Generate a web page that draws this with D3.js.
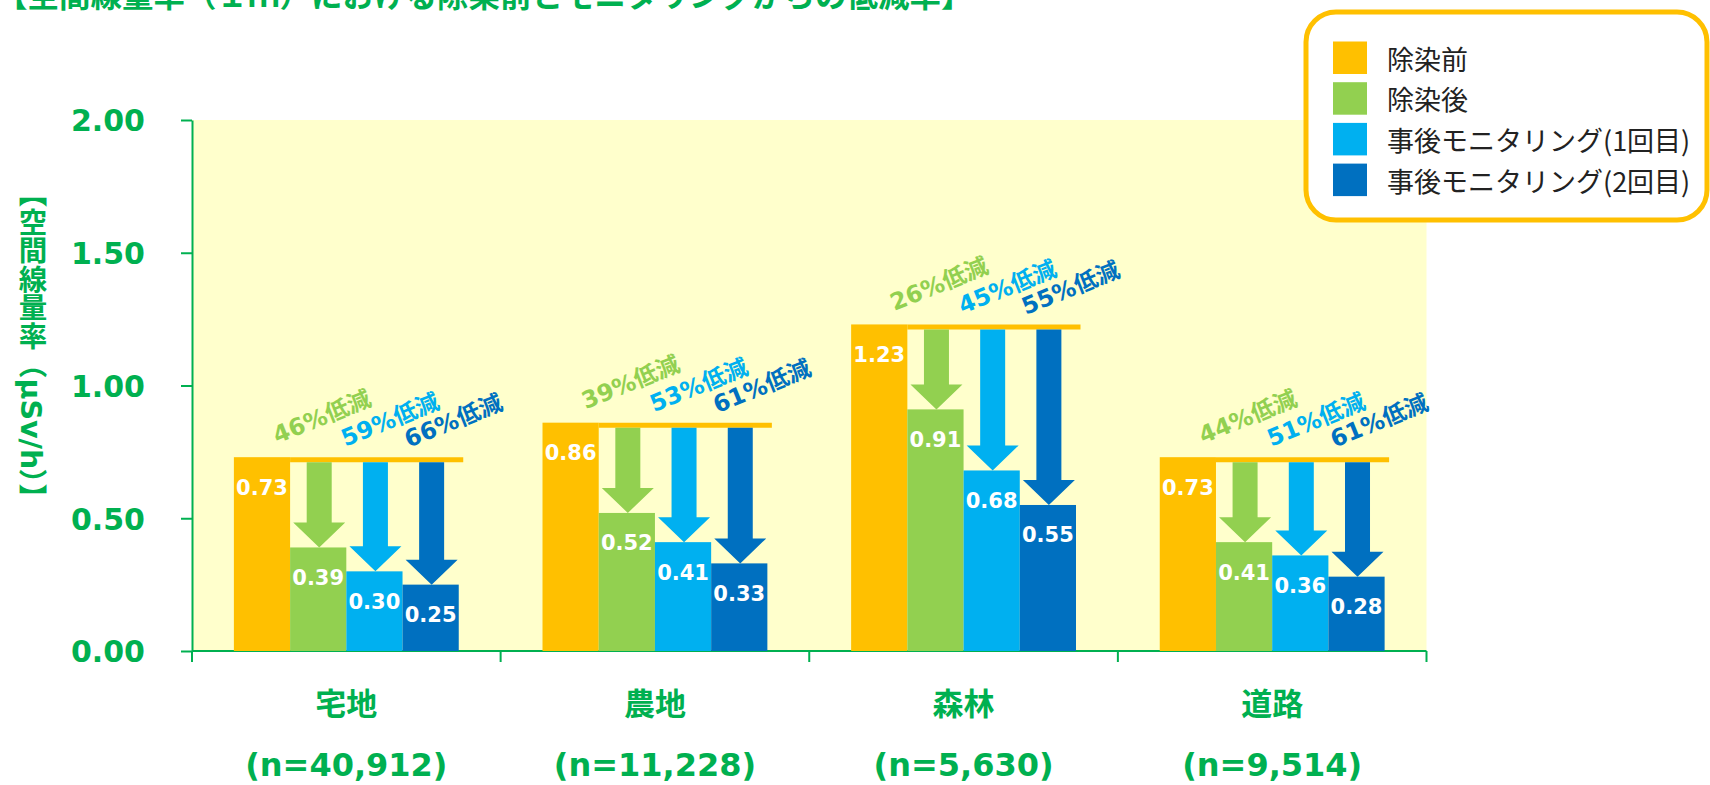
<!DOCTYPE html>
<html>
<head>
<meta charset="utf-8">
<script src="https://cdn.jsdelivr.net/npm/d3@7"></script>
<style>
  html, body { margin: 0; padding: 0; background: #ffffff; }
  svg { display: block; }
</style>
</head>
<body>
<svg id="chart" width="1710" height="785"></svg>
<script>
// ---- data ----
const categories = ["宅地", "農地", "森林", "道路"];
const sampleSizes = ["(n=40,912)", "(n=11,228)", "(n=5,630)", "(n=9,514)"];
const seriesNames = ["除染前", "除染後", "事後モニタリング(1回目)", "事後モニタリング(2回目)"];
const beforeValues = [0.73, 0.86, 1.23, 0.73];
const afterValues = [0.39, 0.52, 0.91, 0.41];
const monitoring1Values = [0.30, 0.41, 0.68, 0.36];
const monitoring2Values = [0.25, 0.33, 0.55, 0.28];
const reductionAfter = [46, 39, 26, 44];
const reductionMonitoring1 = [59, 53, 45, 51];
const reductionMonitoring2 = [66, 61, 55, 61];
const yTicks = [0, 0.5, 1.0, 1.5, 2.0];

const titleText = "【空間線量率（１ｍ）における除染前とモニタリングからの低減率】";
const yAxisTitle = "【空間線量率（μSv/h）】";

// ---- styling ----
const colors = ["#FFC000", "#92D050", "#00B0F0", "#0070C0"];
const green = "#00B050";
const latinBold = "'DejaVu Sans', 'Noto Sans CJK JP', sans-serif";
const cjk = "'Noto Sans CJK JP', sans-serif";

const seriesValues = [beforeValues, afterValues, monitoring1Values, monitoring2Values];
const reductions = [null, reductionAfter, reductionMonitoring1, reductionMonitoring2];

const svg = d3.select("#chart");

const plot = { left: 192, right: 1426.5, top: 120, bottom: 651 };

const x0 = d3.scaleBand().domain(categories).range([plot.left, plot.right]).padding(0);
const x1 = d3.scaleBand().domain(d3.range(seriesNames.length))
  .range([0, x0.bandwidth()]).paddingInner(0).paddingOuter(0.745);
const y = d3.scaleLinear().domain([0, 2]).range([plot.bottom, plot.top]);

// title (sits partly above the top edge)
svg.append("text")
  .attr("x", -4).attr("y", 7)
  .attr("font-family", cjk).attr("font-weight", 700).attr("font-size", 31.5)
  .attr("fill", green)
  .text(titleText);

// plot background
svg.append("rect")
  .attr("x", plot.left).attr("y", plot.top)
  .attr("width", plot.right - plot.left).attr("height", plot.bottom - plot.top)
  .attr("fill", "#FFFFCC");

// y axis
const yAxis = svg.append("g")
  .attr("transform", `translate(${plot.left},0)`)
  .call(d3.axisLeft(y).tickValues(yTicks).tickFormat(d3.format(".2f"))
    .tickSize(11).tickSizeOuter(0).tickPadding(36));
yAxis.select(".domain").attr("stroke", green).attr("stroke-width", 2);
yAxis.selectAll(".tick line").attr("stroke", green).attr("stroke-width", 2);
yAxis.selectAll(".tick text")
  .attr("fill", green).attr("font-family", latinBold)
  .attr("font-weight", 700).attr("font-size", 30)
  .attr("dy", "0.36em");

// x axis line and boundary ticks
svg.append("line")
  .attr("x1", plot.left).attr("x2", plot.right)
  .attr("y1", y(0)).attr("y2", y(0))
  .attr("stroke", green).attr("stroke-width", 2);
const boundaries = categories.map(c => x0(c)).concat([x0(categories[categories.length - 1]) + x0.bandwidth()]);
svg.selectAll("line.xtick").data(boundaries).join("line")
  .attr("class", "xtick")
  .attr("x1", d => d).attr("x2", d => d)
  .attr("y1", y(0)).attr("y2", y(0) + 11)
  .attr("stroke", green).attr("stroke-width", 2);

// category labels
const catG = svg.selectAll("g.cat").data(categories).join("g")
  .attr("class", "cat")
  .attr("transform", c => `translate(${x0(c) + x0.bandwidth() / 2},0)`);
catG.append("text")
  .attr("y", 715).attr("text-anchor", "middle")
  .attr("font-family", cjk).attr("font-weight", 700).attr("font-size", 31)
  .attr("fill", green)
  .text(c => c);
catG.append("text")
  .attr("y", 776).attr("text-anchor", "middle")
  .attr("font-family", latinBold).attr("font-weight", 700).attr("font-size", 32)
  .attr("fill", green)
  .text((c, i) => sampleSizes[i]);

// y axis title, written vertically
svg.append("text")
  .attr("x", 30).attr("y", 179)
  .style("writing-mode", "vertical-rl")
  .attr("font-family", latinBold).attr("font-weight", 700).attr("font-size", 28.5)
  .attr("fill", green)
  .text(yAxisTitle);

// groups
categories.forEach((cat, i) => {
  const gx = x0(cat);
  const bw = x1.bandwidth();
  const g = svg.append("g").attr("transform", `translate(${gx},0)`);

  // bars
  seriesValues.forEach((vals, j) => {
    g.append("rect")
      .attr("x", x1(j)).attr("y", y(vals[i]))
      .attr("width", bw).attr("height", y(0) - y(vals[i]))
      .attr("fill", colors[j]);
  });

  // reference level of the pre-decontamination value
  const lineY = y(beforeValues[i]) + 2.5;
  g.append("line")
    .attr("x1", x1(1)).attr("x2", x1(3) + bw + 4.5)
    .attr("y1", lineY).attr("y2", lineY)
    .attr("stroke", colors[0]).attr("stroke-width", 5);

  // arrows from the reference level down to each later value
  for (let j = 1; j < 4; j++) {
    const cx = x1(j) + bw / 2 + 1;
    const top = lineY + 2.5;
    const tip = y(seriesValues[j][i]);
    const headH = 25, shaftW = 12.5, headW = 26;
    const pts = [
      [cx - shaftW, top], [cx + shaftW, top], [cx + shaftW, tip - headH],
      [cx + headW, tip - headH], [cx, tip], [cx - headW, tip - headH],
      [cx - shaftW, tip - headH]
    ];
    g.append("path")
      .attr("d", d3.line()(pts) + "Z")
      .attr("fill", colors[j]);
  }

  // value labels
  seriesValues.forEach((vals, j) => {
    g.append("text")
      .attr("x", x1(j) + bw / 2).attr("y", y(vals[i]) + 37.5)
      .attr("text-anchor", "middle")
      .attr("font-family", latinBold).attr("font-weight", 700).attr("font-size", 21)
      .attr("fill", "#ffffff")
      .text(d3.format(".2f")(vals[i]));
  });

  // reduction labels
  const offX = [0, -13, -1, 6];
  const offY = [0, -16, -13, -12];
  for (let j = 1; j < 4; j++) {
    g.append("text")
      .attr("transform", `translate(${x1(j) + offX[j]},${lineY + offY[j]}) rotate(-22)`)
      .attr("font-family", latinBold).attr("font-weight", 700).attr("font-size", 23.5)
      .attr("fill", colors[j])
      .text(`${reductions[j][i]}%低減`);
  }
});

// legend
const legend = svg.append("g");
legend.append("rect")
  .attr("x", 1306).attr("y", 12).attr("width", 401).attr("height", 208)
  .attr("rx", 30).attr("ry", 30)
  .attr("fill", "#ffffff").attr("stroke", "#FFC000").attr("stroke-width", 5);
const legendRows = legend.selectAll("g.row").data(seriesNames).join("g")
  .attr("class", "row")
  .attr("transform", (d, j) => `translate(1333,${41.5 + j * 40.7})`);
legendRows.append("rect")
  .attr("width", 34).attr("height", 32.5)
  .attr("fill", (d, j) => colors[j]);
legendRows.append("text")
  .attr("x", 54).attr("y", 16.5)
  .attr("dominant-baseline", "central")
  .attr("font-family", cjk).attr("font-weight", 400).attr("font-size", 27)
  .attr("fill", "#222222")
  .text(d => d);
</script>
</body>
</html>
